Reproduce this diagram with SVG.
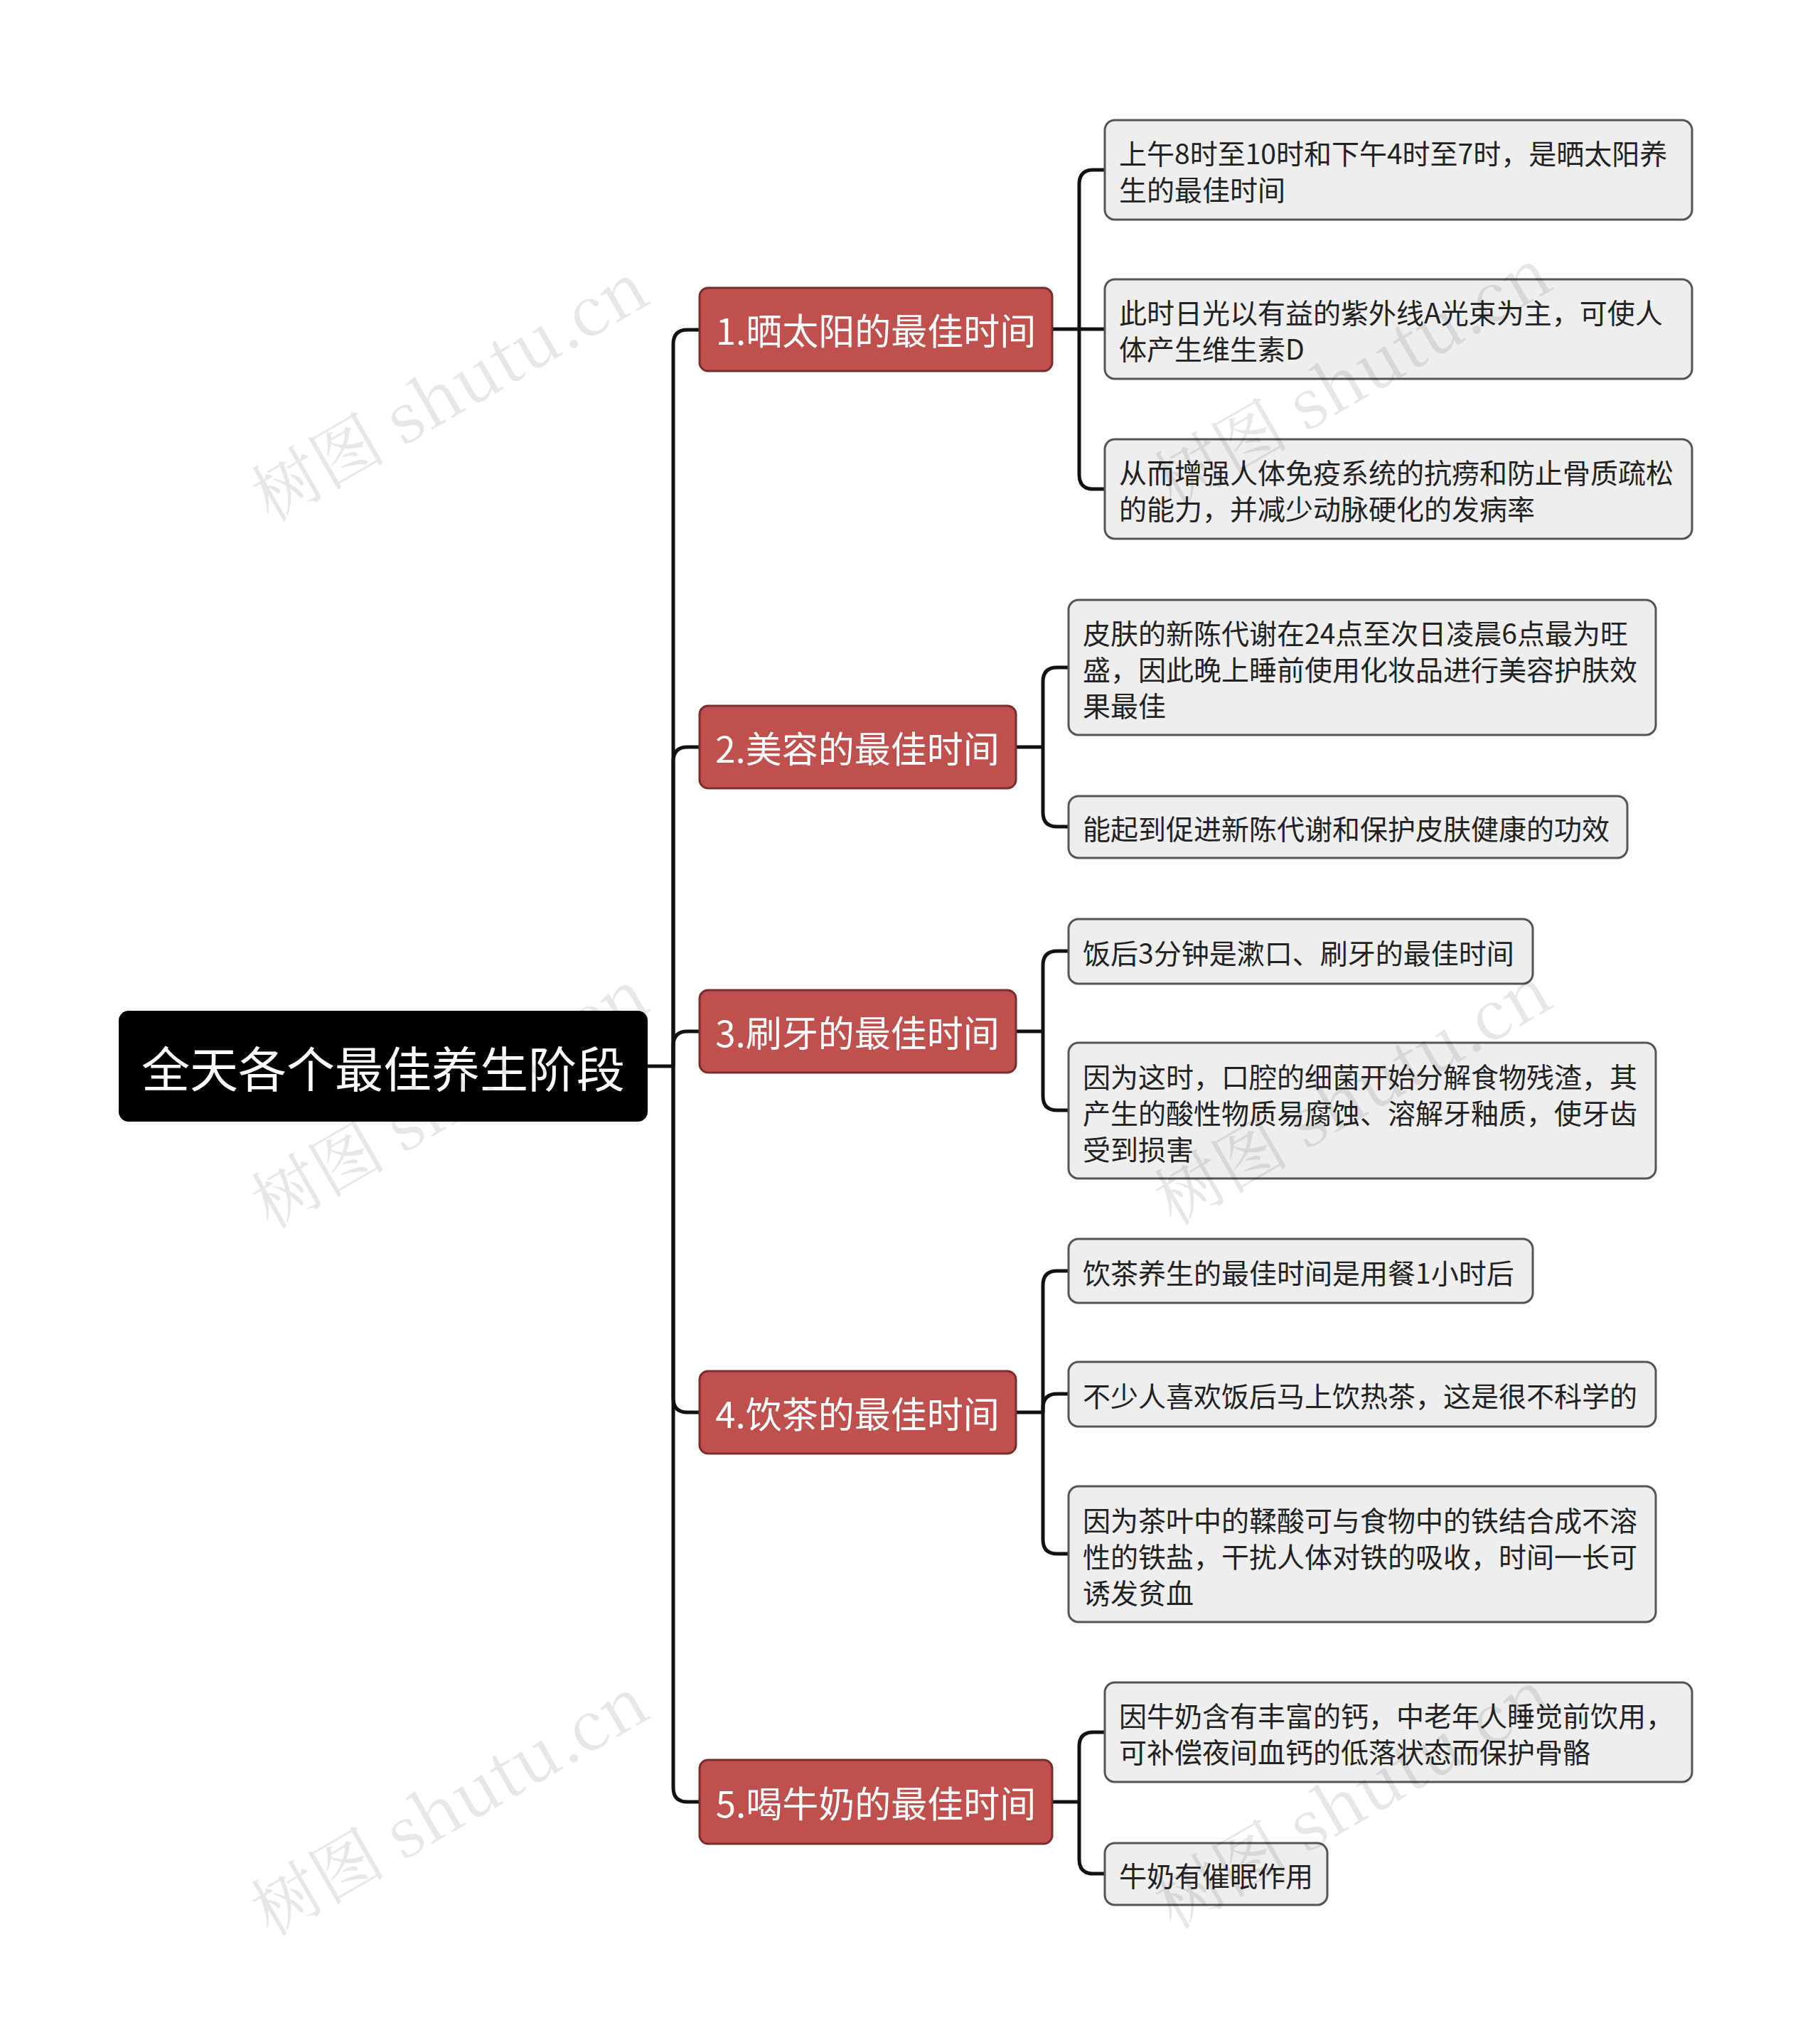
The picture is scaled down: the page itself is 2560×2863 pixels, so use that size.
<svg xmlns="http://www.w3.org/2000/svg" width="2560" height="2863" viewBox="0 0 2560 2863">
<style>
text{font-family:"Noto Sans CJK SC","Noto Sans",sans-serif;dominant-baseline:central}
.leaf rect{fill:#eeeeee;stroke:#555;stroke-width:3}
.leaf text{font-size:39px;fill:#222}
.br rect{fill:#c0504d;stroke:#7a2e2c;stroke-width:3}
.br text{font-size:51px;fill:#fff;text-anchor:middle}
.wm{font-family:"Noto Serif CJK SC","Liberation Serif",serif;font-size:95px;fill:#000;opacity:0.09}
#conn path{fill:none;stroke:#111;stroke-width:5}
</style>
<rect width="2560" height="2863" fill="#fff"/>
<g id="conn">
<path d="M911 1500H947"/>
<path d="M947 1500V484Q947 464 967 464H984"/>
<path d="M947 1500V1071Q947 1051 967 1051H984"/>
<path d="M947 1500V1471Q947 1451 967 1451H984"/>
<path d="M947 1500V1967Q947 1987 967 1987H984"/>
<path d="M947 1500V2515Q947 2535 967 2535H984"/>
<path d="M1480 463H1518"/>
<path d="M1518 463V259Q1518 239 1538 239H1554"/>
<path d="M1518 463H1554"/>
<path d="M1518 463V668Q1518 688 1538 688H1554"/>
<path d="M1429 1051H1467"/>
<path d="M1467 1051V959Q1467 939 1487 939H1503"/>
<path d="M1467 1051V1143Q1467 1163 1487 1163H1503"/>
<path d="M1429 1451H1467"/>
<path d="M1467 1451V1358Q1467 1338 1487 1338H1503"/>
<path d="M1467 1451V1542Q1467 1562 1487 1562H1503"/>
<path d="M1429 1987H1467"/>
<path d="M1467 1987V1808Q1467 1788 1487 1788H1503"/>
<path d="M1467 1987V1981Q1467 1961 1487 1961H1503"/>
<path d="M1467 1987V2166Q1467 2186 1487 2186H1503"/>
<path d="M1480 2535H1518"/>
<path d="M1518 2535V2457Q1518 2437 1538 2437H1554"/>
<path d="M1518 2535V2616Q1518 2636 1538 2636H1554"/>
</g>
<g id="root"><rect x="167" y="1422" width="744" height="156" rx="14" fill="#000"/><text x="539" y="1500" font-size="68" fill="#fff" text-anchor="middle">全天各个最佳养生阶段</text></g>
<g id="b1" class="br"><rect x="984" y="405" width="496" height="117" rx="12"/><text x="1232" y="463">1.晒太阳的最佳时间</text></g>
<g id="b2" class="br"><rect x="984" y="993" width="445" height="116" rx="12"/><text x="1206" y="1051">2.美容的最佳时间</text></g>
<g id="b3" class="br"><rect x="984" y="1393" width="445" height="116" rx="12"/><text x="1206" y="1451">3.刷牙的最佳时间</text></g>
<g id="b4" class="br"><rect x="984" y="1929" width="445" height="116" rx="12"/><text x="1206" y="1987">4.饮茶的最佳时间</text></g>
<g id="b5" class="br"><rect x="984" y="2476" width="496" height="118" rx="12"/><text x="1232" y="2535">5.喝牛奶的最佳时间</text></g>
<g id="l1a" class="leaf"><rect x="1554" y="169" width="826" height="140" rx="14"/><text x="1574" y="214">上午8时至10时和下午4时至7时，是晒太阳养</text><text x="1574" y="265">生的最佳时间</text></g>
<g id="l1b" class="leaf"><rect x="1554" y="393" width="826" height="140" rx="14"/><text x="1574" y="438">此时日光以有益的紫外线A光束为主，可使人</text><text x="1574" y="489">体产生维生素D</text></g>
<g id="l1c" class="leaf"><rect x="1554" y="618" width="826" height="140" rx="14"/><text x="1574" y="663">从而增强人体免疫系统的抗痨和防止骨质疏松</text><text x="1574" y="714">的能力，并减少动脉硬化的发病率</text></g>
<g id="l2a" class="leaf"><rect x="1503" y="844" width="826" height="190" rx="14"/><text x="1523" y="889">皮肤的新陈代谢在24点至次日凌晨6点最为旺</text><text x="1523" y="940">盛，因此晚上睡前使用化妆品进行美容护肤效</text><text x="1523" y="991">果最佳</text></g>
<g id="l2b" class="leaf"><rect x="1503" y="1120" width="786" height="87" rx="14"/><text x="1523" y="1164">能起到促进新陈代谢和保护皮肤健康的功效</text></g>
<g id="l3a" class="leaf"><rect x="1503" y="1293" width="653" height="91" rx="14"/><text x="1523" y="1339">饭后3分钟是漱口、刷牙的最佳时间</text></g>
<g id="l3b" class="leaf"><rect x="1503" y="1467" width="826" height="191" rx="14"/><text x="1523" y="1513">因为这时，口腔的细菌开始分解食物残渣，其</text><text x="1523" y="1564">产生的酸性物质易腐蚀、溶解牙釉质，使牙齿</text><text x="1523" y="1615">受到损害</text></g>
<g id="l4a" class="leaf"><rect x="1503" y="1743" width="653" height="90" rx="14"/><text x="1523" y="1789">饮茶养生的最佳时间是用餐1小时后</text></g>
<g id="l4b" class="leaf"><rect x="1503" y="1916" width="826" height="91" rx="14"/><text x="1523" y="1962">不少人喜欢饭后马上饮热茶，这是很不科学的</text></g>
<g id="l4c" class="leaf"><rect x="1503" y="2091" width="826" height="191" rx="14"/><text x="1523" y="2137">因为茶叶中的鞣酸可与食物中的铁结合成不溶</text><text x="1523" y="2188">性的铁盐，干扰人体对铁的吸收，时间一长可</text><text x="1523" y="2239">诱发贫血</text></g>
<g id="l5a" class="leaf"><rect x="1554" y="2367" width="826" height="140" rx="14"/><text x="1574" y="2412">因牛奶含有丰富的钙，中老年人睡觉前饮用，</text><text x="1574" y="2463">可补偿夜间血钙的低落状态而保护骨骼</text></g>
<g id="l5b" class="leaf"><rect x="1554" y="2593" width="313" height="87" rx="14"/><text x="1574" y="2637">牛奶有催眠作用</text></g>
<g id="wm">
<text class="wm" transform="translate(360 700) rotate(-30)">树图 shutu.cn</text>
<text class="wm" transform="translate(1630 680) rotate(-30)">树图 shutu.cn</text>
<text class="wm" transform="translate(360 1695) rotate(-30)">树图 shutu.cn</text>
<text class="wm" transform="translate(1630 1690) rotate(-30)">树图 shutu.cn</text>
<text class="wm" transform="translate(360 2690) rotate(-30)">树图 shutu.cn</text>
<text class="wm" transform="translate(1630 2680) rotate(-30)">树图 shutu.cn</text>
</g>
</svg>
